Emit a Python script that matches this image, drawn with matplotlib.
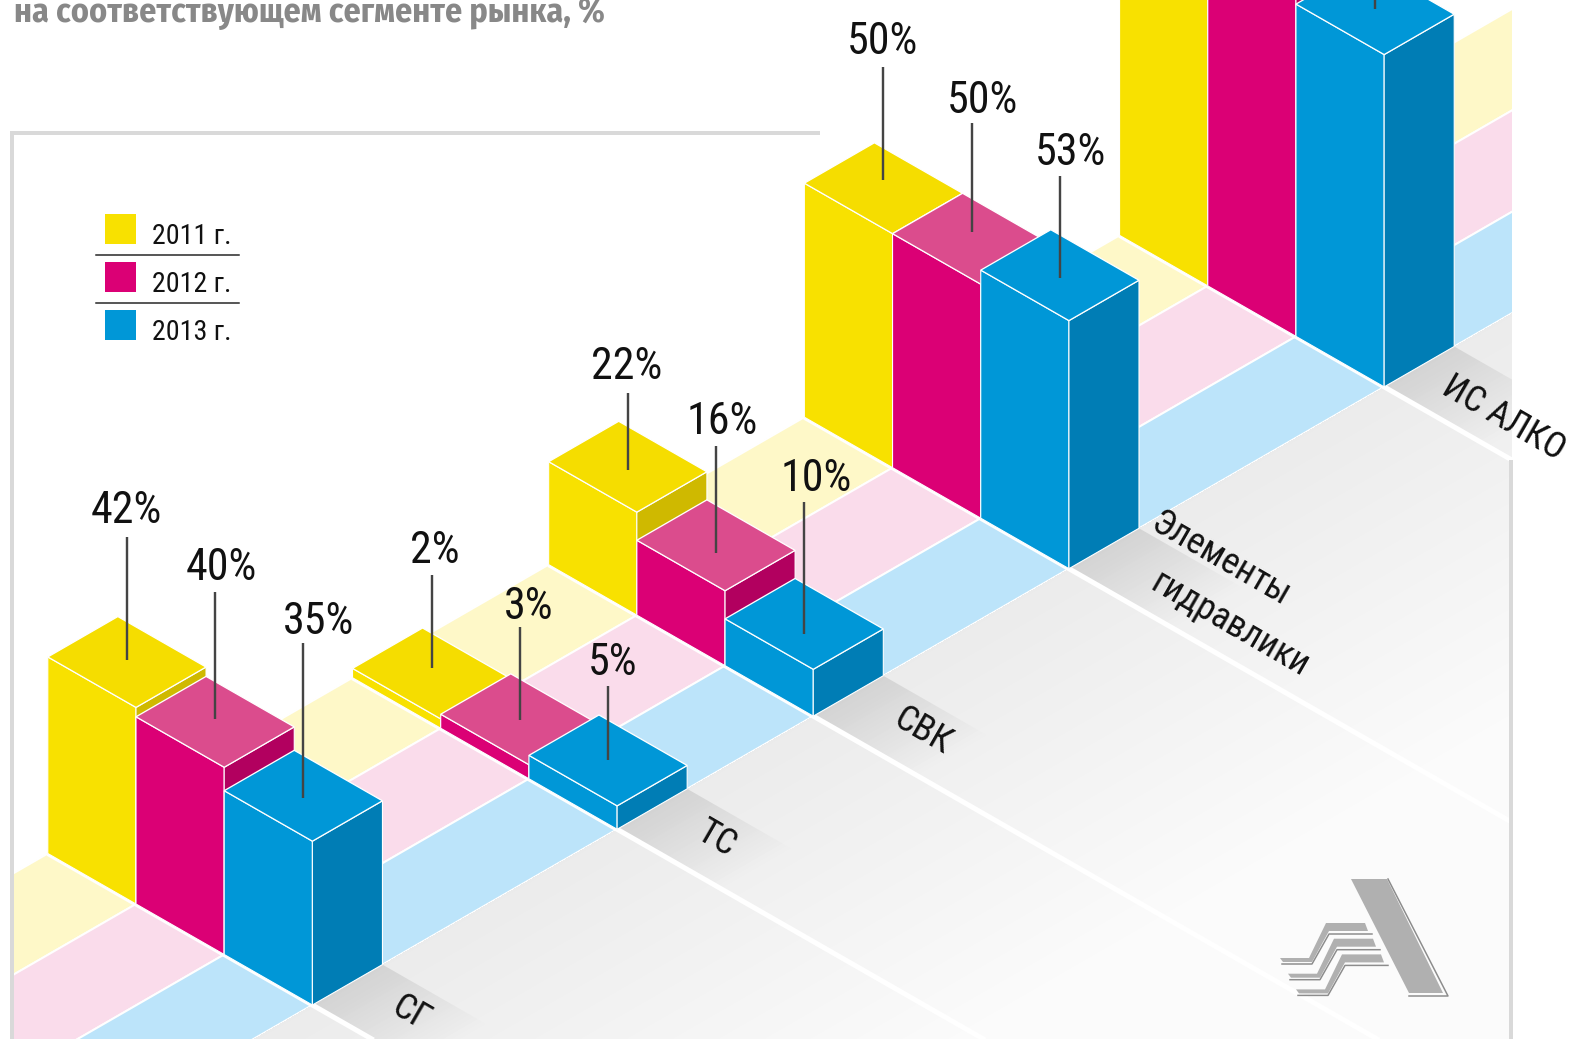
import numpy as np
import matplotlib
matplotlib.use("Agg")
import matplotlib.pyplot as plt
from matplotlib.patches import Polygon, Rectangle

# data
categories = ["СГ", "ТС", "СВК", "Элементы\nгидравлики", "ИС АЛКО"]
years = ["2011 г.", "2012 г.", "2013 г."]
values_2011 = [42, 2, 22, 50, 68]
values_2012 = [40, 3, 16, 50, 74]
values_2013 = [35, 5, 10, 53, 71]
title_text = "на соответствующем сегменте рынка, %"

# layout: pixel space of the picture
W, H = 1575, 1039
ORIGIN = (47.8, 853.5)
STEP_S = (88.2, 50.5)    # one series along the front
STEP_D = (70.05, -40.4)  # one unit of depth
PX_PER_PCT = 4.68
GROUP_POS = [0, 4.35, 7.15, 10.8, 15.3]
LEFT, RIGHT = 14, 1512

LEADER_LEN = [[123, 127, 155], [93, 93, 74], [77, 107, 132], [113, 109, 102], [100, 100, 100]]
LEADER_END = [[-2, -3, 2], [-5, 1, 0], [3, 8, 10], [-8, -7, 3], [0, 0, 0]]
LABEL_DX = [[-1, 6, 15], [3, 9, 5], [-1, 6, 12], [-1, 11, 11], [0, 0, 0]]
LABEL_GAP = [[26, 24, 21], [24, 20, 23], [26, 24, 23], [25, 22, 23], [25, 25, 25]]
CAT_OFFSET = [[[77, 8]], [[78, 9]], [[78, 9]], [[79, -40], [79, 20]], [[56, 6]]]

FRONT = ["#F8E100", "#DB0075", "#0097D7"]
TOP = ["#F5DD00", "#DB4C8D", "#0097D7"]
SIDE = ["#CFB900", "#B2005F", "#007DB5"]
FLOOR = ["#FEF8C8", "#FADCEB", "#BCE4FA"]
NARROW = ["Roboto Condensed", "PT Sans Narrow", "Fira Sans Condensed", "Liberation Sans", "DejaVu Sans"]
TITLE_FONT = ["Fira Sans Condensed", "Roboto Condensed", "PT Sans Narrow", "Liberation Sans", "DejaVu Sans"]

PX = 0.72  # points per pixel at dpi 100


def project(d, s, z=0):
    x = ORIGIN[0] + s * STEP_S[0] + d * STEP_D[0]
    y = ORIGIN[1] + s * STEP_S[1] + d * STEP_D[1] - z * PX_PER_PCT
    return (x, y)


def clip_poly(ax, pts):
    p = Polygon(pts, closed=True, transform=ax.transData, fc="none", ec="none")
    ax.add_patch(p)
    return p


def draw_logo(ax):
    c = "#B0B0B0"
    dark = "#8C8C8C"
    ax.add_patch(Polygon([(1351, 879), (1387, 879), (1443, 993), (1409, 993)], fc=c, ec="none", zorder=3))
    ax.plot([1388, 1448, 1409], [879, 996, 996], color=dark, lw=1.5 * PX, zorder=3)
    for k in range(3):
        ox, oy = k * 8, k * 15.7
        strip = [(1280, 958), (1309, 958), (1326, 923), (1365, 923), (1368, 931), (1329, 931), (1312, 962), (1283, 962)]
        ax.add_patch(Polygon([(x + ox, y + oy) for x, y in strip], fc=c, ec="none", zorder=3))
        line = [(1282, 964), (1312, 964), (1329, 934), (1372, 934)]
        ax.plot([x + ox for x, y in line], [y + oy for x, y in line], color=dark, lw=1.5 * PX, zorder=3)


def main():
    fig = plt.figure(figsize=(W / 100, H / 100), dpi=100)
    ax = fig.add_axes([0, 0, 1, 1])

    xx, yy = np.meshgrid(np.arange(W) + 0.5, np.arange(H) + 0.5)
    det = STEP_S[0] * -STEP_D[1] + STEP_S[1] * STEP_D[0]
    # series coordinate of every pixel
    ss = ((xx - ORIGIN[0]) * -STEP_D[1] + (yy - ORIGIN[1]) * STEP_D[0]) / det
    inside = (xx >= LEFT) & (xx <= RIGHT)

    # coloured floor bands
    d_far = 40
    for s in range(3):
        pts = [project(-5, s), project(d_far, s), project(d_far, s + 1), project(-5, s + 1)]
        band = Polygon(pts, fc=FLOOR[s], ec="white", lw=2 * PX, zorder=1)
        ax.add_patch(band)
        band.set_clip_path(Rectangle((LEFT, 0), RIGHT - LEFT, H, transform=ax.transData))

    # grey floor with fading towards the lower right
    grey = np.zeros((H, W, 4))
    grey[..., :3] = (0.925 + 0.06 * np.clip((ss - 3) / 4, 0, 1))[..., None]
    grey[..., 3] = (inside & (ss >= 3)).astype(float)
    ax.imshow(grey, extent=[0, W, H, 0], aspect="auto", zorder=1.2)

    # white lines in front of each group, and the shadow next to the bars
    view = Rectangle((LEFT, 0), RIGHT - LEFT, H, transform=ax.transData)
    for g, pos in enumerate(GROUP_POS):
        shade = np.zeros((H, W, 4))
        shade[..., :3] = 0.45
        shade[..., 3] = 0.2 * np.clip(1 - (ss - 3) / 1.2, 0, 1) * inside
        im2 = ax.imshow(shade, extent=[0, W, H, 0], aspect="auto", zorder=1.3)
        sp = [project(pos, 3), project(pos + 1, 3), project(pos + 1, 4.3), project(pos, 4.3)]
        im2.set_clip_path(clip_poly(ax, sp))

        a = project(pos, 0)
        b = project(pos, 14)
        ln, = ax.plot([a[0], b[0]], [a[1], b[1]], color="white", lw=5 * PX, zorder=1.5, solid_capstyle="butt")
        ln.set_clip_path(view)

    # frame
    frame = "#D9D9D9"
    ax.plot([10.5, 820], [133, 133], color=frame, lw=4 * PX, zorder=1.8, solid_capstyle="butt")
    ax.plot([12, 12], [131, H], color=frame, lw=4 * PX, zorder=1.8, solid_capstyle="butt")
    ax.plot([1511, 1511], [460, H], color=frame, lw=4 * PX, zorder=1.8, solid_capstyle="butt")

    # bars, back groups first so the nearer ones overlap them
    series = [values_2011, values_2012, values_2013]
    z = 2
    for g in range(len(categories) - 1, -1, -1):
        pos = GROUP_POS[g]
        for s in range(3):
            v = series[s][g]
            top = [project(pos, s, v), project(pos + 1, s, v), project(pos + 1, s + 1, v), project(pos, s + 1, v)]
            front = [project(pos, s, v), project(pos, s + 1, v), project(pos, s + 1), project(pos, s)]
            side = [project(pos, s + 1, v), project(pos + 1, s + 1, v), project(pos + 1, s + 1), project(pos, s + 1)]
            ax.add_patch(Polygon(front, fc=FRONT[s], ec="white", lw=1.1 * PX, zorder=z))
            ax.add_patch(Polygon(side, fc=SIDE[s], ec="white", lw=1.1 * PX, zorder=z))
            ax.add_patch(Polygon(top, fc=TOP[s], ec="white", lw=1.3 * PX, zorder=z))
            z += 0.01

    # leaders and value labels
    for g, pos in enumerate(GROUP_POS):
        for s in range(3):
            v = series[s][g]
            cx, cy = project(pos + 0.5, s + 0.5, v)
            cy += LEADER_END[g][s]
            y_top = cy - LEADER_LEN[g][s]
            ax.plot([cx, cx], [cy, y_top], color="#444444", lw=2.4 * PX, zorder=5, solid_capstyle="butt")
            if y_top - LABEL_GAP[g][s] > 0:
                ax.text(cx + LABEL_DX[g][s], y_top - LABEL_GAP[g][s], f"{v}%", family=NARROW, fontsize=44 * PX,
                        ha="center", va="center", color="#111111", zorder=6)

    # category labels
    for g, pos in enumerate(GROUP_POS):
        fx, fy = project(pos, 3)
        for line, off in zip(categories[g].split("\n"), CAT_OFFSET[g]):
            ax.text(fx + off[0], fy + off[1], line, family=NARROW, fontsize=36 * PX, rotation=-30,
                    rotation_mode="anchor", ha="left", va="baseline", color="#111111", zorder=6)

    # legend
    for i, lab in enumerate(years):
        y0 = 214 + i * 48
        ax.add_patch(Rectangle((104.5, y0), 31.5, 30, fc=FRONT[i], ec="none", zorder=3))
        ax.text(151.5, y0 + 23, lab, family=NARROW, fontsize=28 * PX, ha="left", va="center",
                color="#111111", zorder=6)
        if i < 2:
            ax.plot([96, 239], [y0 + 41, y0 + 41], color="#222222", lw=1.5 * PX, zorder=3)

    ax.text(14, 22, title_text, family=TITLE_FONT, fontweight="bold", fontsize=34 * PX, color="#888888",
            ha="left", va="baseline", zorder=6)

    draw_logo(ax)

    ax.set_xlim(0, W)
    ax.set_ylim(H, 0)
    ax.axis("off")
    fig.savefig("out.png", dpi=100, facecolor="white")


if __name__ == "__main__":
    main()
